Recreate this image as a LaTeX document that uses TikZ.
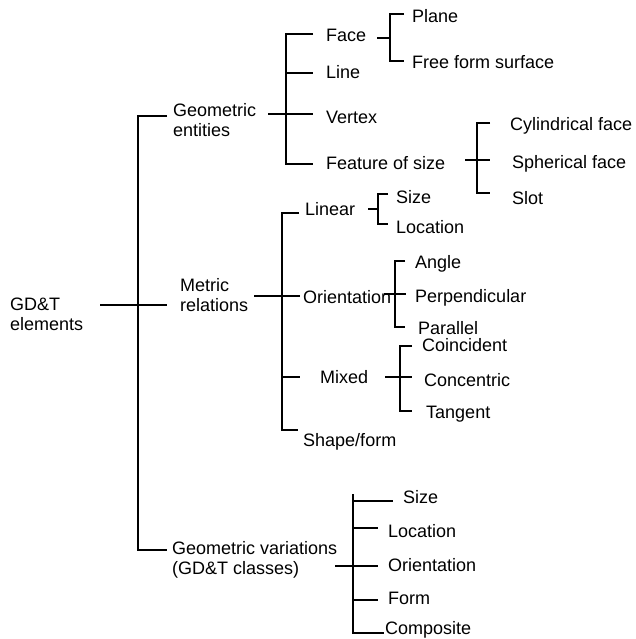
\documentclass[tikz,border=0pt]{standalone}
\usepackage{fontspec}
\setmainfont{Liberation Sans}
\begin{document}
\begin{tikzpicture}[x=1pt,y=-1pt,
  lbl/.style={inner sep=0pt, anchor=base west, font=\fontsize{18}{20}\selectfont},
  mlbl/.style={inner sep=0pt, anchor=west, align=left, font=\fontsize{18}{20}\selectfont},
  ln/.style={line width=1.9pt}]
\useasboundingbox (0,0) rectangle (635,639);
% ---- labels ----
\node[mlbl] (root) at (10,314) {GD\&T\\elements};
\node[mlbl] (ge) at (173,120) {Geometric\\entities};
\node[mlbl] (mr) at (180,295) {Metric\\relations};
\node[mlbl] (gv) at (172,560) {Geometric variations\\(GD\&T classes)};
\node[lbl] (face) at (326,41.5) {Face};
\node[lbl] (line) at (326,78.5) {Line};
\node[lbl] (vertex) at (326,123.5) {Vertex};
\node[lbl] (fos) at (326,169.5) {Feature of size};
\node[lbl] (plane) at (412,22.5) {Plane};
\node[lbl] (ffs) at (412,68.5) {Free form surface};
\node[lbl] (cyl) at (510,130.5) {Cylindrical face};
\node[lbl] (sph) at (512,168.5) {Spherical face};
\node[lbl] (slot) at (512,204.5) {Slot};
\node[lbl] (linear) at (305,215.5) {Linear};
\node[lbl] (lsize) at (396,203.5) {Size};
\node[lbl] (lloc) at (396,233.5) {Location};
\node[lbl] (orient) at (303,303.5) {Orientation};
\node[lbl] (angle) at (415,268.5) {Angle};
\node[lbl] (perp) at (415,302.5) {Perpendicular};
\node[lbl] (par) at (418,334.5) {Parallel};
\node[lbl] (mixed) at (320,383.5) {Mixed};
\node[lbl] (coin) at (422,351.5) {Coincident};
\node[lbl] (conc) at (424,386.5) {Concentric};
\node[lbl] (tang) at (426,418.5) {Tangent};
\node[lbl] (shape) at (303,446.5) {Shape/form};
\node[lbl] (vsize) at (403,503.5) {Size};
\node[lbl] (vloc) at (388,537.5) {Location};
\node[lbl] (vori) at (388,571.5) {Orientation};
\node[lbl] (vform) at (388,604.5) {Form};
\node[lbl] (vcomp) at (385,634.8) {Composite};
% ---- junction coordinates ----
\coordinate (r0) at (100,305); \coordinate (r1) at (167,305);
\coordinate (mT) at (138,116); \coordinate (mTe) at (167,116);
\coordinate (mB) at (138,550); \coordinate (mBe) at (167,550);
\coordinate (g0) at (268,114); \coordinate (g1) at (313,114);
\coordinate (gT) at (286,34); \coordinate (gTe) at (313,34);
\coordinate (gL) at (286,73); \coordinate (gLe) at (313,73);
\coordinate (gB) at (286,164); \coordinate (gBe) at (313,164);
\coordinate (f0) at (377,38); \coordinate (fJ) at (390,38);
\coordinate (fT) at (390,14); \coordinate (fTe) at (404,14);
\coordinate (fB) at (390,61); \coordinate (fBe) at (404,61);
\coordinate (s0) at (465,160); \coordinate (s1) at (490,160);
\coordinate (sT) at (477,123); \coordinate (sTe) at (490,123);
\coordinate (sB) at (477,193); \coordinate (sBe) at (490,193);
\coordinate (q0) at (254,296); \coordinate (q1) at (300,296);
\coordinate (qT) at (282,213); \coordinate (qTe) at (299,213);
\coordinate (qM) at (282,377); \coordinate (qMe) at (300,377);
\coordinate (qB) at (282,430); \coordinate (qBe) at (298,430);
\coordinate (l0) at (368,209); \coordinate (lJ) at (378,209);
\coordinate (lT) at (378,194); \coordinate (lTe) at (388,194);
\coordinate (lB) at (378,224); \coordinate (lBe) at (388,224);
\coordinate (oT) at (395,261); \coordinate (oTe) at (405,261);
\coordinate (oM0) at (384,294); \coordinate (oMe) at (406,294);
\coordinate (oB) at (395,327); \coordinate (oBe) at (405,327);
\coordinate (x0) at (385,377); \coordinate (x1) at (412,377);
\coordinate (xT) at (400,346); \coordinate (xTe) at (412,346);
\coordinate (xB) at (400,411); \coordinate (xBe) at (412,411);
\coordinate (v0) at (335,566); \coordinate (vOe) at (378,566);
\coordinate (vT) at (353,494); \coordinate (vB) at (353,633); \coordinate (vBe) at (384,633);
\coordinate (vS) at (353,501); \coordinate (vSe) at (393,501);
\coordinate (vL) at (353,528); \coordinate (vLe) at (378,528);
\coordinate (vF) at (353,600); \coordinate (vFe) at (378,600);
% ---- connectors ----
\draw[ln] (r0) -- (r1);
\draw[ln] (mTe) -- (mT) -- (mB) -- (mBe);
\draw[ln] (g0) -- (g1);
\draw[ln] (gTe) -- (gT) -- (gB) -- (gBe);
\draw[ln] (gL) -- (gLe);
\draw[ln] (f0) -- (fJ);
\draw[ln] (fTe) -- (fT) -- (fB) -- (fBe);
\draw[ln] (s0) -- (s1);
\draw[ln] (sTe) -- (sT) -- (sB) -- (sBe);
\draw[ln] (q0) -- (q1);
\draw[ln] (qTe) -- (qT) -- (qB) -- (qBe);
\draw[ln] (qM) -- (qMe);
\draw[ln] (l0) -- (lJ);
\draw[ln] (lTe) -- (lT) -- (lB) -- (lBe);
\draw[ln] (oTe) -- (oT) -- (oB) -- (oBe);
\draw[ln] (oM0) -- (oMe);
\draw[ln] (x0) -- (x1);
\draw[ln] (xTe) -- (xT) -- (xB) -- (xBe);
\draw[ln] (v0) -- (vOe);
\draw[ln] (vT) -- (vB) -- (vBe);
\draw[ln] (vS) -- (vSe);
\draw[ln] (vL) -- (vLe);
\draw[ln] (vF) -- (vFe);
\end{tikzpicture}
\end{document}
